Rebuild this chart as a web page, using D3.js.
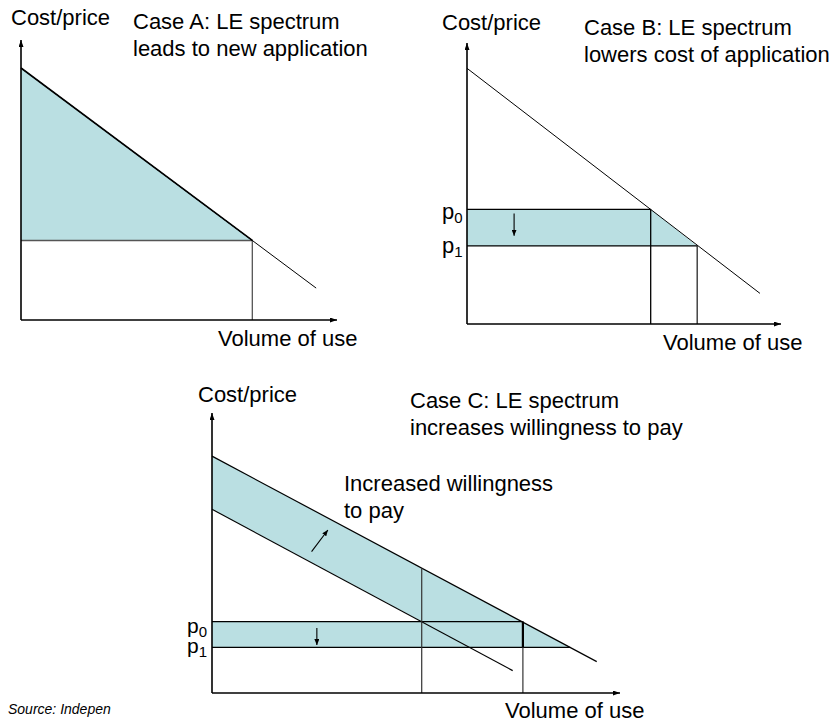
<!DOCTYPE html>
<html>
<head>
<meta charset="utf-8">
<script src="https://cdn.jsdelivr.net/npm/d3@7"></script>
<style>
body { margin: 0; background: #fff; }
text { font-family: Arial, "Liberation Sans", sans-serif; fill: #000; }
</style>
</head>
<body>
<div id="chart"></div>
<script>
// values, each panel on a 0-100 volume / 0-100 price grid
var volumeDomain = [0, 100];
var priceDomain = [0, 100];

// Case A
var demandA = [{q: 0, p: 90}, {q: 93.4, p: 11.4}];
var priceA = 28.4;
var volumeA = 73.2;

// Case B
var demandB = [{q: 0, p: 91}, {q: 93.3, p: 10.9}];
var pricesB = [40.8, 27.8];          // p0, p1
var volumesB = [58.5, 73.3];         // q0, q1
var arrowB = [{q: 15, p: 39.3}, {q: 15, p: 31.4}];

// Case C
var demandC0 = [{q: 0, p: 65.6}, {q: 73.7, p: 8.0}];   // original willingness
var demandC1 = [{q: 0, p: 84.6}, {q: 94.3, p: 11.2}];  // increased willingness
var pricesC = [25.5, 16.3];
var volumesC = [51.4, 76.2, 87.8];   // q0, q1, upper curve at p1
var topAtQ0C = 44.6;                 // upper curve height at q0
var arrowC = [{q: 24.4, p: 50.5}, {q: 28.4, p: 58.2}];
var arrowC2 = [{q: 25.7, p: 23.2}, {q: 25.7, p: 17.1}];

var fillColor = "#badfe2";

var svg = d3.select("#chart")
    .append("svg")
    .attr("width", 835)
    .attr("height", 722);

var defs = svg.append("defs");
function marker(id, len, wid) {
    defs.append("marker")
        .attr("id", id)
        .attr("viewBox", "0 0 " + len + " " + wid)
        .attr("refX", len)
        .attr("refY", wid / 2)
        .attr("markerUnits", "userSpaceOnUse")
        .attr("markerWidth", len)
        .attr("markerHeight", wid)
        .attr("orient", "auto")
        .append("path")
        .attr("d", "M0,0L" + len + "," + (wid / 2) + "L0," + wid + "Z")
        .attr("fill", "#000");
}
marker("axisArrow", 7, 5);
marker("smallArrow", 6, 5);

function makePanel(frame) {
    var x = d3.scaleLinear().domain(volumeDomain).range([frame.left, frame.right]);
    var y = d3.scaleLinear().domain(priceDomain).range([frame.bottom, frame.top]);
    var g = svg.append("g");
    var line = d3.line()
        .x(function(d) { return x(d.q); })
        .y(function(d) { return y(d.p); });
    return {x: x, y: y, g: g, line: line};
}

function area(P, pts) {
    P.g.append("path")
        .datum(pts)
        .attr("d", P.line(pts) + "Z")
        .attr("fill", fillColor)
        .attr("stroke", "none");
}
function seg(P, pts, w, col, mk) {
    var s = P.g.append("path")
        .datum(pts)
        .attr("d", P.line)
        .attr("fill", "none")
        .attr("stroke", col || "#000")
        .attr("stroke-width", w);
    if (mk) s.attr("marker-end", "url(#" + mk + ")");
    return s;
}
function axes(P) {
    seg(P, [{q: 0, p: 0}, {q: 100, p: 0}], 1.6, "#000", "axisArrow");
    seg(P, [{q: 0, p: 0}, {q: 0, p: 100}], 1.6, "#000", "axisArrow");
}
function label(x, y, str, size, extra) {
    var t = svg.append("text")
        .attr("x", x)
        .attr("y", y)
        .style("font-size", size + "px")
        .text(str);
    if (extra) t.style("font-style", extra);
    return t;
}
function pLabel(x, y, sub, size) {
    var t = svg.append("text")
        .attr("x", x)
        .attr("y", y)
        .style("font-size", (size || 22) + "px")
        .text("p");
    t.append("tspan")
        .attr("dy", 4)
        .style("font-size", "15px")
        .text(sub);
}

// ---- Case A
var A = makePanel({left: 21, right: 337, bottom: 320, top: 40});
area(A, [demandA[0], {q: volumeA, p: priceA}, {q: 0, p: priceA}]);
seg(A, [{q: 0, p: priceA}, {q: volumeA, p: priceA}], 1.3, "#555");
seg(A, [{q: volumeA, p: priceA}, {q: volumeA, p: 0}], 1.3, "#555");
seg(A, demandA, 1);
seg(A, [demandA[0], {q: volumeA, p: priceA}], 1.6);
axes(A);

label(11, 25, "Cost/price", 22);
label(133, 29, "Case A: LE spectrum", 22);
label(133, 56, "leads to new application", 22);
label(218, 346, "Volume of use", 22);

// ---- Case B
var B = makePanel({left: 467, right: 781, bottom: 324, top: 43});
area(B, [{q: 0, p: pricesB[0]}, {q: volumesB[0], p: pricesB[0]},
         {q: volumesB[1], p: pricesB[1]}, {q: 0, p: pricesB[1]}]);
seg(B, demandB, 1);
seg(B, [{q: 0, p: pricesB[0]}, {q: volumesB[0], p: pricesB[0]}], 1.2);
seg(B, [{q: 0, p: pricesB[1]}, {q: volumesB[1], p: pricesB[1]}], 1.2);
seg(B, [{q: volumesB[0], p: pricesB[0]}, {q: volumesB[0], p: 0}], 1.3);
seg(B, [{q: volumesB[1], p: pricesB[1]}, {q: volumesB[1], p: 0}], 1.1);
seg(B, arrowB, 1.1, "#000", "smallArrow");
axes(B);

label(442, 30, "Cost/price", 22);
label(584, 35, "Case B: LE spectrum", 22);
label(584, 62, "lowers cost of application", 22);
label(663, 350, "Volume of use", 22);
pLabel(442, 219, "0");
pLabel(442, 253, "1");

// ---- Case C
var C = makePanel({left: 212, right: 620, bottom: 693, top: 413});
area(C, [demandC1[0], {q: volumesC[2], p: pricesC[1]}, {q: 0, p: pricesC[1]},
         {q: 0, p: pricesC[0]}, {q: volumesC[0], p: pricesC[0]}, demandC0[0]]);
seg(C, demandC0, 1.2);
seg(C, demandC1, 1.2);
seg(C, [{q: 0, p: pricesC[0]}, {q: volumesC[1], p: pricesC[0]}], 1.2);
seg(C, [{q: 0, p: pricesC[1]}, {q: volumesC[2], p: pricesC[1]}], 1.2);
seg(C, [{q: volumesC[0], p: topAtQ0C}, {q: volumesC[0], p: 0}], 1.2, "#333");
seg(C, [{q: volumesC[1], p: pricesC[0]}, {q: volumesC[1], p: 0}], 1.2, "#333");
seg(C, [{q: volumesC[1], p: pricesC[0]}, {q: volumesC[1], p: pricesC[1]}], 2.2);
seg(C, arrowC, 1.1, "#000", "smallArrow");
seg(C, arrowC2, 1.1, "#000", "smallArrow");
axes(C);

label(198, 402, "Cost/price", 22);
label(410, 408, "Case C: LE spectrum", 22);
label(410, 435, "increases willingness to pay", 22);
label(344, 491, "Increased willingness", 22);
label(344, 518, "to pay", 22);
label(505, 718, "Volume of use", 22);
pLabel(187, 633, "0", 21);
pLabel(187, 653, "1", 21);

label(8, 714, "Source: Indepen", 14, "italic");
</script>
</body>
</html>
